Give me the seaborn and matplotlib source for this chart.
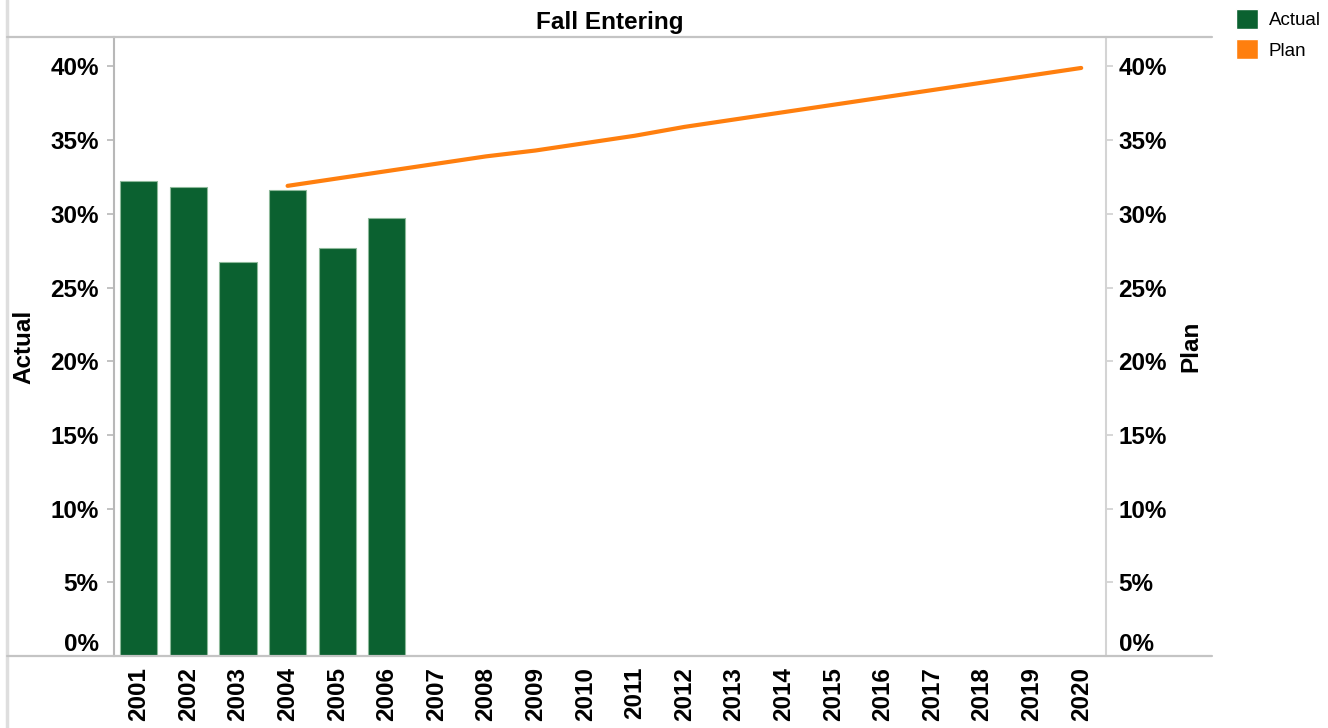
import matplotlib
matplotlib.use("Agg")
import matplotlib.pyplot as plt
from matplotlib.lines import Line2D
from matplotlib.patches import Patch
from matplotlib.ticker import PercentFormatter
import numpy as np
import seaborn as sns

# ---- data ----
years = [2001, 2002, 2003, 2004, 2005, 2006, 2007, 2008, 2009, 2010,
         2011, 2012, 2013, 2014, 2015, 2016, 2017, 2018, 2019, 2020]
actual_years = [2001, 2002, 2003, 2004, 2005, 2006]
actual_values = [0.322, 0.318, 0.267, 0.316, 0.277, 0.297]
plan_years = [2004, 2005, 2006, 2007, 2008, 2009, 2010, 2011, 2012,
              2013, 2014, 2015, 2016, 2017, 2018, 2019, 2020]
plan_values = [0.319, 0.324, 0.329, 0.334, 0.339, 0.343, 0.348, 0.353, 0.359,
               0.364, 0.369, 0.374, 0.379, 0.384, 0.389, 0.394, 0.399]
y_ticks = [0.0, 0.05, 0.10, 0.15, 0.20, 0.25, 0.30, 0.35, 0.40]
title = "Fall Entering"
legend_labels = ["Actual", "Plan"]

GREEN = "#0B6130"
ORANGE = "#FF7F0E"
AXIS_GREY = "#b8b8b8"
FS = 17.5

sns.set_style("white")
plt.rcParams["font.family"] = ["Liberation Sans", "DejaVu Sans"]
plt.rcParams["font.weight"] = "bold"
plt.rcParams["text.color"] = "black"
plt.rcParams["axes.labelcolor"] = "black"

W, H = 1328, 728
fig = plt.figure(figsize=(W / 100, H / 100), dpi=100)
ax = fig.add_axes([114 / W, 1 - 656 / H, (1106 - 114) / W, (656 - 37) / H])

sns.barplot(x=actual_years, y=actual_values, native_scale=True, width=0.75,
            color=GREEN, saturation=1, edgecolor="#8db99a", linewidth=0.8, ax=ax)

ax2 = ax.twinx()
sns.lineplot(x=plan_years, y=plan_values, color=ORANGE, linewidth=3.0, ax=ax2)

for a in (ax, ax2):
    a.set_ylim(0, 0.42)
    a.set_yticks(y_ticks)
    a.yaxis.set_major_formatter(PercentFormatter(1.0, decimals=0))
ax.set_xlim(years[0] - 0.5, years[-1] + 0.5)

ax.set_xticks(years)
ax.set_xticklabels([str(y) for y in years], rotation=90, fontsize=FS, fontweight="bold")
ax.set_xticks(np.array(years + [years[-1] + 1]) - 0.5, minor=True)
ax.tick_params(axis="x", which="major", length=0, pad=8, labelsize=FS, labelcolor="black")
ax.tick_params(axis="x", which="minor", length=6, width=1.5, color=AXIS_GREY)

ax.tick_params(axis="y", which="major", left=True, length=5, width=1.2,
               color=AXIS_GREY, pad=6, labelsize=FS, labelcolor="black")
ax2.tick_params(axis="y", which="major", right=True, length=5, width=1.2,
                color="#d0d0d0", pad=4, labelsize=FS, labelcolor="black")
for a in (ax, ax2):
    for lab in a.get_yticklabels():
        lab.set_fontweight("bold")
    a.get_yticklabels()[0].set_verticalalignment("bottom")

for s in ("top", "right", "bottom"):
    ax.spines[s].set_visible(False)
for s in ("top", "left", "bottom"):
    ax2.spines[s].set_visible(False)
ax.spines["left"].set_color(AXIS_GREY)
ax.spines["left"].set_linewidth(1.5)
ax2.spines["right"].set_color("#d4d4d4")
ax2.spines["right"].set_linewidth(1.5)

ax.set_ylabel("Actual", fontsize=FS, fontweight="bold", labelpad=11)
ax2.set_ylabel("Plan", fontsize=FS, fontweight="bold", labelpad=9)
ax.set_xlabel("")
ax.set_title(title, fontsize=FS, fontweight="bold", pad=6)

# frame lines (Tableau-style pane borders)
fig.add_artist(Line2D([7 / W, 7 / W], [0, 1], transform=fig.transFigure,
                      color="#dedede", linewidth=2.5))
fig.add_artist(Line2D([7 / W, 1212 / W], [1 - 37 / H, 1 - 37 / H],
                      transform=fig.transFigure, color="#c4c4c4", linewidth=1.6))
fig.add_artist(Line2D([7 / W, 1212 / W], [1 - 656 / H, 1 - 656 / H],
                      transform=fig.transFigure, color="#c4c4c4", linewidth=1.6))

handles = [Patch(facecolor=GREEN, label=legend_labels[0]),
           Patch(facecolor=ORANGE, label=legend_labels[1])]
fig.legend(handles=handles, loc="upper left", bbox_to_anchor=(1232 / W, 1 - 5 / H),
           frameon=False, prop={"size": 13.5, "weight": "normal"},
           handlelength=1.2, handleheight=1.25, labelspacing=0.55,
           handletextpad=0.55, borderaxespad=0, borderpad=0.2)

fig.savefig("out.png", dpi=100)
